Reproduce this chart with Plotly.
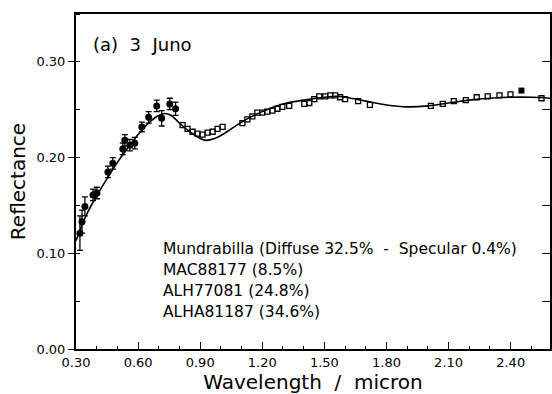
import plotly.graph_objects as go

# Filled circles with error bars (telescopic spectrum)
circ_x = [0.319, 0.329, 0.343, 0.382, 0.401, 0.454, 0.478, 0.526, 0.536, 0.560,
          0.584, 0.618, 0.651, 0.690, 0.714, 0.753, 0.781]
circ_y = [0.121, 0.133, 0.149, 0.161, 0.163, 0.185, 0.194, 0.209, 0.218, 0.213,
          0.215, 0.232, 0.242, 0.254, 0.241, 0.256, 0.251]
circ_err = [0.018, 0.012, 0.010, 0.006, 0.006, 0.006, 0.006, 0.006, 0.006, 0.006,
            0.006, 0.005, 0.006, 0.006, 0.008, 0.006, 0.007]

# Open squares
sq_x = [0.815, 0.839, 0.863, 0.887, 0.911, 0.936, 0.960, 0.984, 1.008,
        1.104, 1.128, 1.152, 1.176, 1.200, 1.224, 1.249, 1.273, 1.297, 1.330,
        1.403, 1.427, 1.451, 1.475, 1.504, 1.528, 1.552, 1.576, 1.600, 1.663, 1.720,
        2.014, 2.072, 2.125, 2.183, 2.236, 2.289, 2.346, 2.399, 2.549]
sq_y = [0.234, 0.230, 0.227, 0.225, 0.224, 0.226, 0.227, 0.230, 0.232,
        0.236, 0.240, 0.243, 0.247, 0.247, 0.248, 0.249, 0.251, 0.253, 0.254,
        0.256, 0.257, 0.261, 0.264, 0.264, 0.265, 0.265, 0.263, 0.261, 0.259, 0.255,
        0.254, 0.256, 0.259, 0.260, 0.263, 0.264, 0.265, 0.266, 0.262]

# Filled square
fsq_x = [2.452]
fsq_y = [0.270]

# Model (Mundrabilla mixture)
model_x = [0.30, 0.35, 0.40, 0.45, 0.50, 0.55, 0.60, 0.65, 0.70, 0.73, 0.76, 0.80,
           0.85, 0.90, 0.93, 0.97, 1.00, 1.05, 1.10, 1.15, 1.20, 1.30, 1.40, 1.50,
           1.55, 1.60, 1.70, 1.80, 1.90, 2.00, 2.10, 2.20, 2.30, 2.40, 2.50, 2.59]
model_y = [0.113, 0.140, 0.160, 0.178, 0.195, 0.210, 0.224, 0.236, 0.244, 0.246,
           0.244, 0.236, 0.227, 0.220, 0.218, 0.220, 0.223, 0.230, 0.237, 0.243,
           0.248, 0.256, 0.260, 0.263, 0.264, 0.263, 0.259, 0.255, 0.253, 0.254,
           0.257, 0.260, 0.262, 0.263, 0.263, 0.262]

legend_lines = ["Mundrabilla (Diffuse 32.5%  -  Specular 0.4%)",
                "MAC88177 (8.5%)",
                "ALH77081 (24.8%)",
                "ALHA81187 (34.6%)"]

FONT = "DejaVu Sans"
X_RANGE = [0.30, 2.59]
Y_RANGE = [0.0, 0.35]

# plot-area pixel geometry (for placing text annotations)
PL, PR, PT, PB = 76, 550, 14, 349


def px_to_paper(px, py):
    return (px - PL) / (PR - PL), (PB - py) / (PB - PT)


fig = go.Figure()
fig.add_trace(go.Scatter(x=model_x, y=model_y, mode="lines",
                         line=dict(color="black", width=1.6, shape="spline"),
                         showlegend=False))
fig.add_trace(go.Scatter(x=sq_x, y=sq_y, mode="markers",
                         marker=dict(symbol="square-open", size=5, color="black",
                                     line=dict(width=1.3, color="black")),
                         showlegend=False))
fig.add_trace(go.Scatter(x=fsq_x, y=fsq_y, mode="markers",
                         marker=dict(symbol="square", size=6, color="black"),
                         showlegend=False))
fig.add_trace(go.Scatter(x=circ_x, y=circ_y, mode="markers",
                         marker=dict(symbol="circle", size=7, color="black"),
                         error_y=dict(type="data", array=circ_err, color="black",
                                      thickness=1.3, width=3),
                         showlegend=False))
# invisible trace for right-side axis
fig.add_trace(go.Scatter(x=[X_RANGE[0]], y=[Y_RANGE[0]], yaxis="y2", mode="markers",
                         marker=dict(size=0.1, opacity=0), showlegend=False,
                         hoverinfo="skip"))

for i, t in enumerate(legend_lines):
    ax, ay = px_to_paper(161, 249 + 21 * i)
    fig.add_annotation(x=ax, xref="paper", y=ay, yref="paper",
                       text=t, showarrow=False, xanchor="left", yanchor="middle",
                       font=dict(family=FONT, size=15.5, color="black"))

ax, ay = px_to_paper(91, 44)
fig.add_annotation(x=ax, xref="paper", y=ay, yref="paper",
                   text="(a)  3  Juno", showarrow=False, xanchor="left", yanchor="middle",
                   font=dict(family=FONT, size=18, color="black"))

fig.update_layout(
    width=552, height=394,
    margin=dict(l=PL, r=552 - PR, t=PT, b=394 - PB),
    plot_bgcolor="white", paper_bgcolor="white",
    font=dict(family=FONT, color="black"),
    xaxis=dict(range=X_RANGE, showgrid=False, zeroline=False,
               showline=True, linecolor="black", linewidth=1.8, mirror=True,
               ticks="inside", ticklen=7, tickwidth=1.3, tickcolor="black",
               tick0=0.3, dtick=0.3, tickformat=".2f",
               minor=dict(ticks="inside", ticklen=3, dtick=0.1, tick0=0.3,
                          tickcolor="black", tickwidth=1),
               tickfont=dict(family=FONT, size=13),
               title=dict(text="Wavelength  /  micron", font=dict(family=FONT, size=20),
                          standoff=0)),
    yaxis=dict(range=Y_RANGE, showgrid=False, zeroline=False,
               showline=True, linecolor="black", linewidth=2,
               ticks="outside", ticklen=6, tickwidth=1.3, tickcolor="black",
               dtick=0.1, tickformat=".2f",
               minor=dict(ticks="inside", ticklen=4, dtick=0.05,
                          tickcolor="black", tickwidth=1),
               tickfont=dict(family=FONT, size=13),
               title=dict(text="Reflectance", font=dict(family=FONT, size=20),
                          standoff=5)),
    yaxis2=dict(range=Y_RANGE, overlaying="y", side="right", showgrid=False,
                zeroline=False, showline=True, linecolor="black", linewidth=1.8,
                ticks="inside", ticklen=8, tickwidth=1.3, tickcolor="black",
                dtick=0.05, showticklabels=False),
)

fig.write_html("out.html")
